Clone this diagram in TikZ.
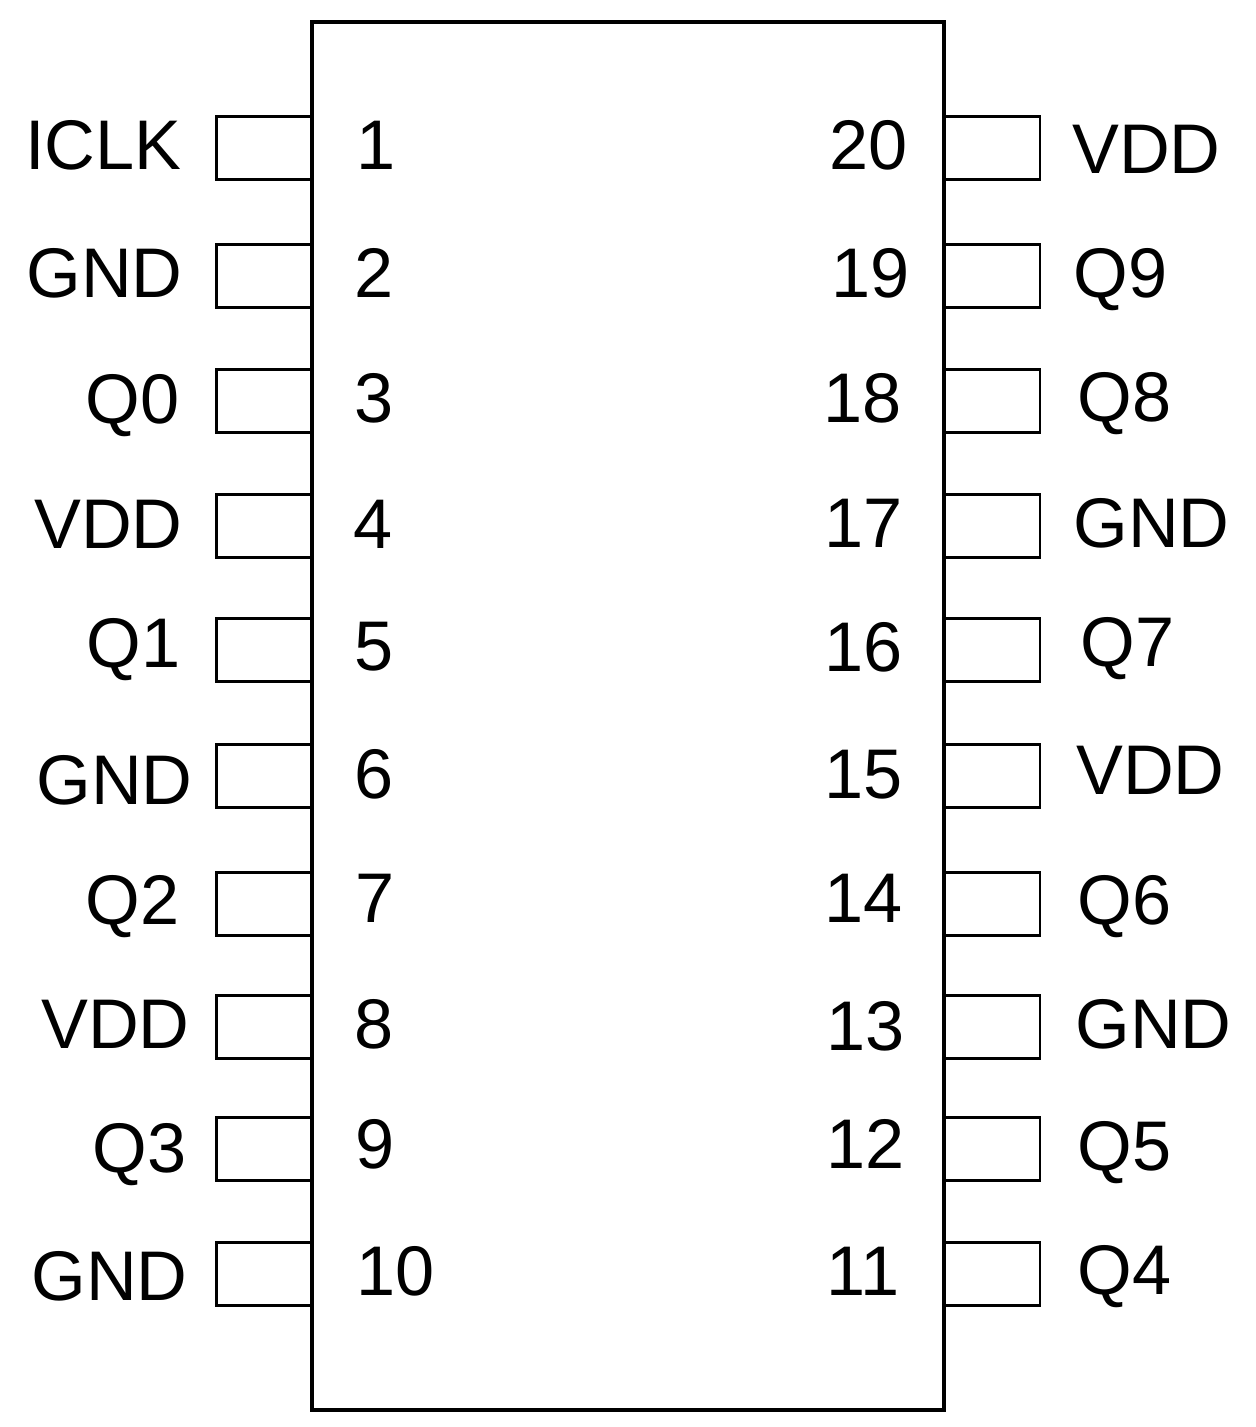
\documentclass[tikz,border=0pt]{standalone}
\usepackage{fontspec}
\setmainfont{Liberation Sans}
\tikzset{pin/.style={rectangle, draw, line width=1.7pt,
minimum width=1.92cm, minimum height=1.26cm, inner sep=0pt}}
\tikzset{pintext/.style={inner sep=0pt, text height=1cm, text depth=0pt,
font=\fontsize{40}{48}\selectfont}}

\begin{document}
\begin{tikzpicture}[x=0.02cm, y=-0.02cm]
\useasboundingbox (0,0) rectangle (1256,1427);

\node[rectangle,
minimum width = 12.64cm,
minimum height = 27.76cm,
line width = 2pt,
draw] (chip) at (628,716) {};

% left side pins
\node [pin] (p1) at (264,148) {};
\node [pin] (p2) at (264,276) {};
\node [pin] (p3) at (264,401) {};
\node [pin] (p4) at (264,526) {};
\node [pin] (p5) at (264,650) {};
\node [pin] (p6) at (264,776) {};
\node [pin] (p7) at (264,904) {};
\node [pin] (p8) at (264,1027) {};
\node [pin] (p9) at (264,1149) {};
\node [pin] (p10) at (264,1274) {};

% right side pins
\node [pin] (p20) at (992,148) {};
\node [pin] (p19) at (992,276) {};
\node [pin] (p18) at (992,401) {};
\node [pin] (p17) at (992,526) {};
\node [pin] (p16) at (992,650) {};
\node [pin] (p15) at (992,776) {};
\node [pin] (p14) at (992,904) {};
\node [pin] (p13) at (992,1027) {};
\node [pin] (p12) at (992,1149) {};
\node [pin] (p11) at (992,1274) {};

% pin numbers
\node [pintext, anchor=west] (n1) at (356,145) {1};
\node [pintext, anchor=west] (n2) at (354,272) {2};
\node [pintext, anchor=west] (n3) at (354,397) {3};
\node [pintext, anchor=west] (n4) at (353,523) {4};
\node [pintext, anchor=west] (n5) at (354,645) {5};
\node [pintext, anchor=west] (n6) at (354,773) {6};
\node [pintext, anchor=west] (n7) at (355,897) {7};
\node [pintext, anchor=west] (n8) at (354,1023) {8};
\node [pintext, anchor=west] (n9) at (355,1143) {9};
\node [pintext, anchor=west] (n10) at (356,1270) {10};

\node [pintext, anchor=east] (n20) at (908,145) {20};
\node [pintext, anchor=east] (n19) at (910,272) {19};
\node [pintext, anchor=east] (n18) at (902,397) {18};
\node [pintext, anchor=east] (n17) at (903,522) {17};
\node [pintext, anchor=east] (n16) at (903,646) {16};
\node [pintext, anchor=east] (n15) at (903,773) {15};
\node [pintext, anchor=east] (n14) at (903,897) {14};
\node [pintext, anchor=east] (n13) at (905,1025) {13};
\node [pintext, anchor=east] (n12) at (905,1143) {12};
\node [pintext, anchor=east] (n11) at (900,1270) {11};

% signal names
\node [pintext, anchor=east] (l1) at (182,145) {ICLK};
\node [pintext, anchor=east] (l2) at (183,272) {GND};
\node [pintext, anchor=east] (l3) at (180,398) {Q0};
\node [pintext, anchor=east] (l4) at (183,523) {VDD};
\node [pintext, anchor=east] (l5) at (181,642) {Q1};
\node [pintext, anchor=east] (l6) at (193,779) {GND};
\node [pintext, anchor=east] (l7) at (180,899) {Q2};
\node [pintext, anchor=east] (l8) at (190,1023) {VDD};
\node [pintext, anchor=east] (l9) at (187,1147) {Q3};
\node [pintext, anchor=east] (l10) at (188,1275) {GND};

\node [pintext, anchor=west] (l20) at (1072,148) {VDD};
\node [pintext, anchor=west] (l19) at (1073,272) {Q9};
\node [pintext, anchor=west] (l18) at (1077,396) {Q8};
\node [pintext, anchor=west] (l17) at (1073,522) {GND};
\node [pintext, anchor=west] (l16) at (1080,641) {Q7};
\node [pintext, anchor=west] (l15) at (1076,769) {VDD};
\node [pintext, anchor=west] (l14) at (1077,899) {Q6};
\node [pintext, anchor=west] (l13) at (1075,1023) {GND};
\node [pintext, anchor=west] (l12) at (1077,1145) {Q5};
\node [pintext, anchor=west] (l11) at (1077,1269) {Q4};

\end{tikzpicture}
\end{document}
